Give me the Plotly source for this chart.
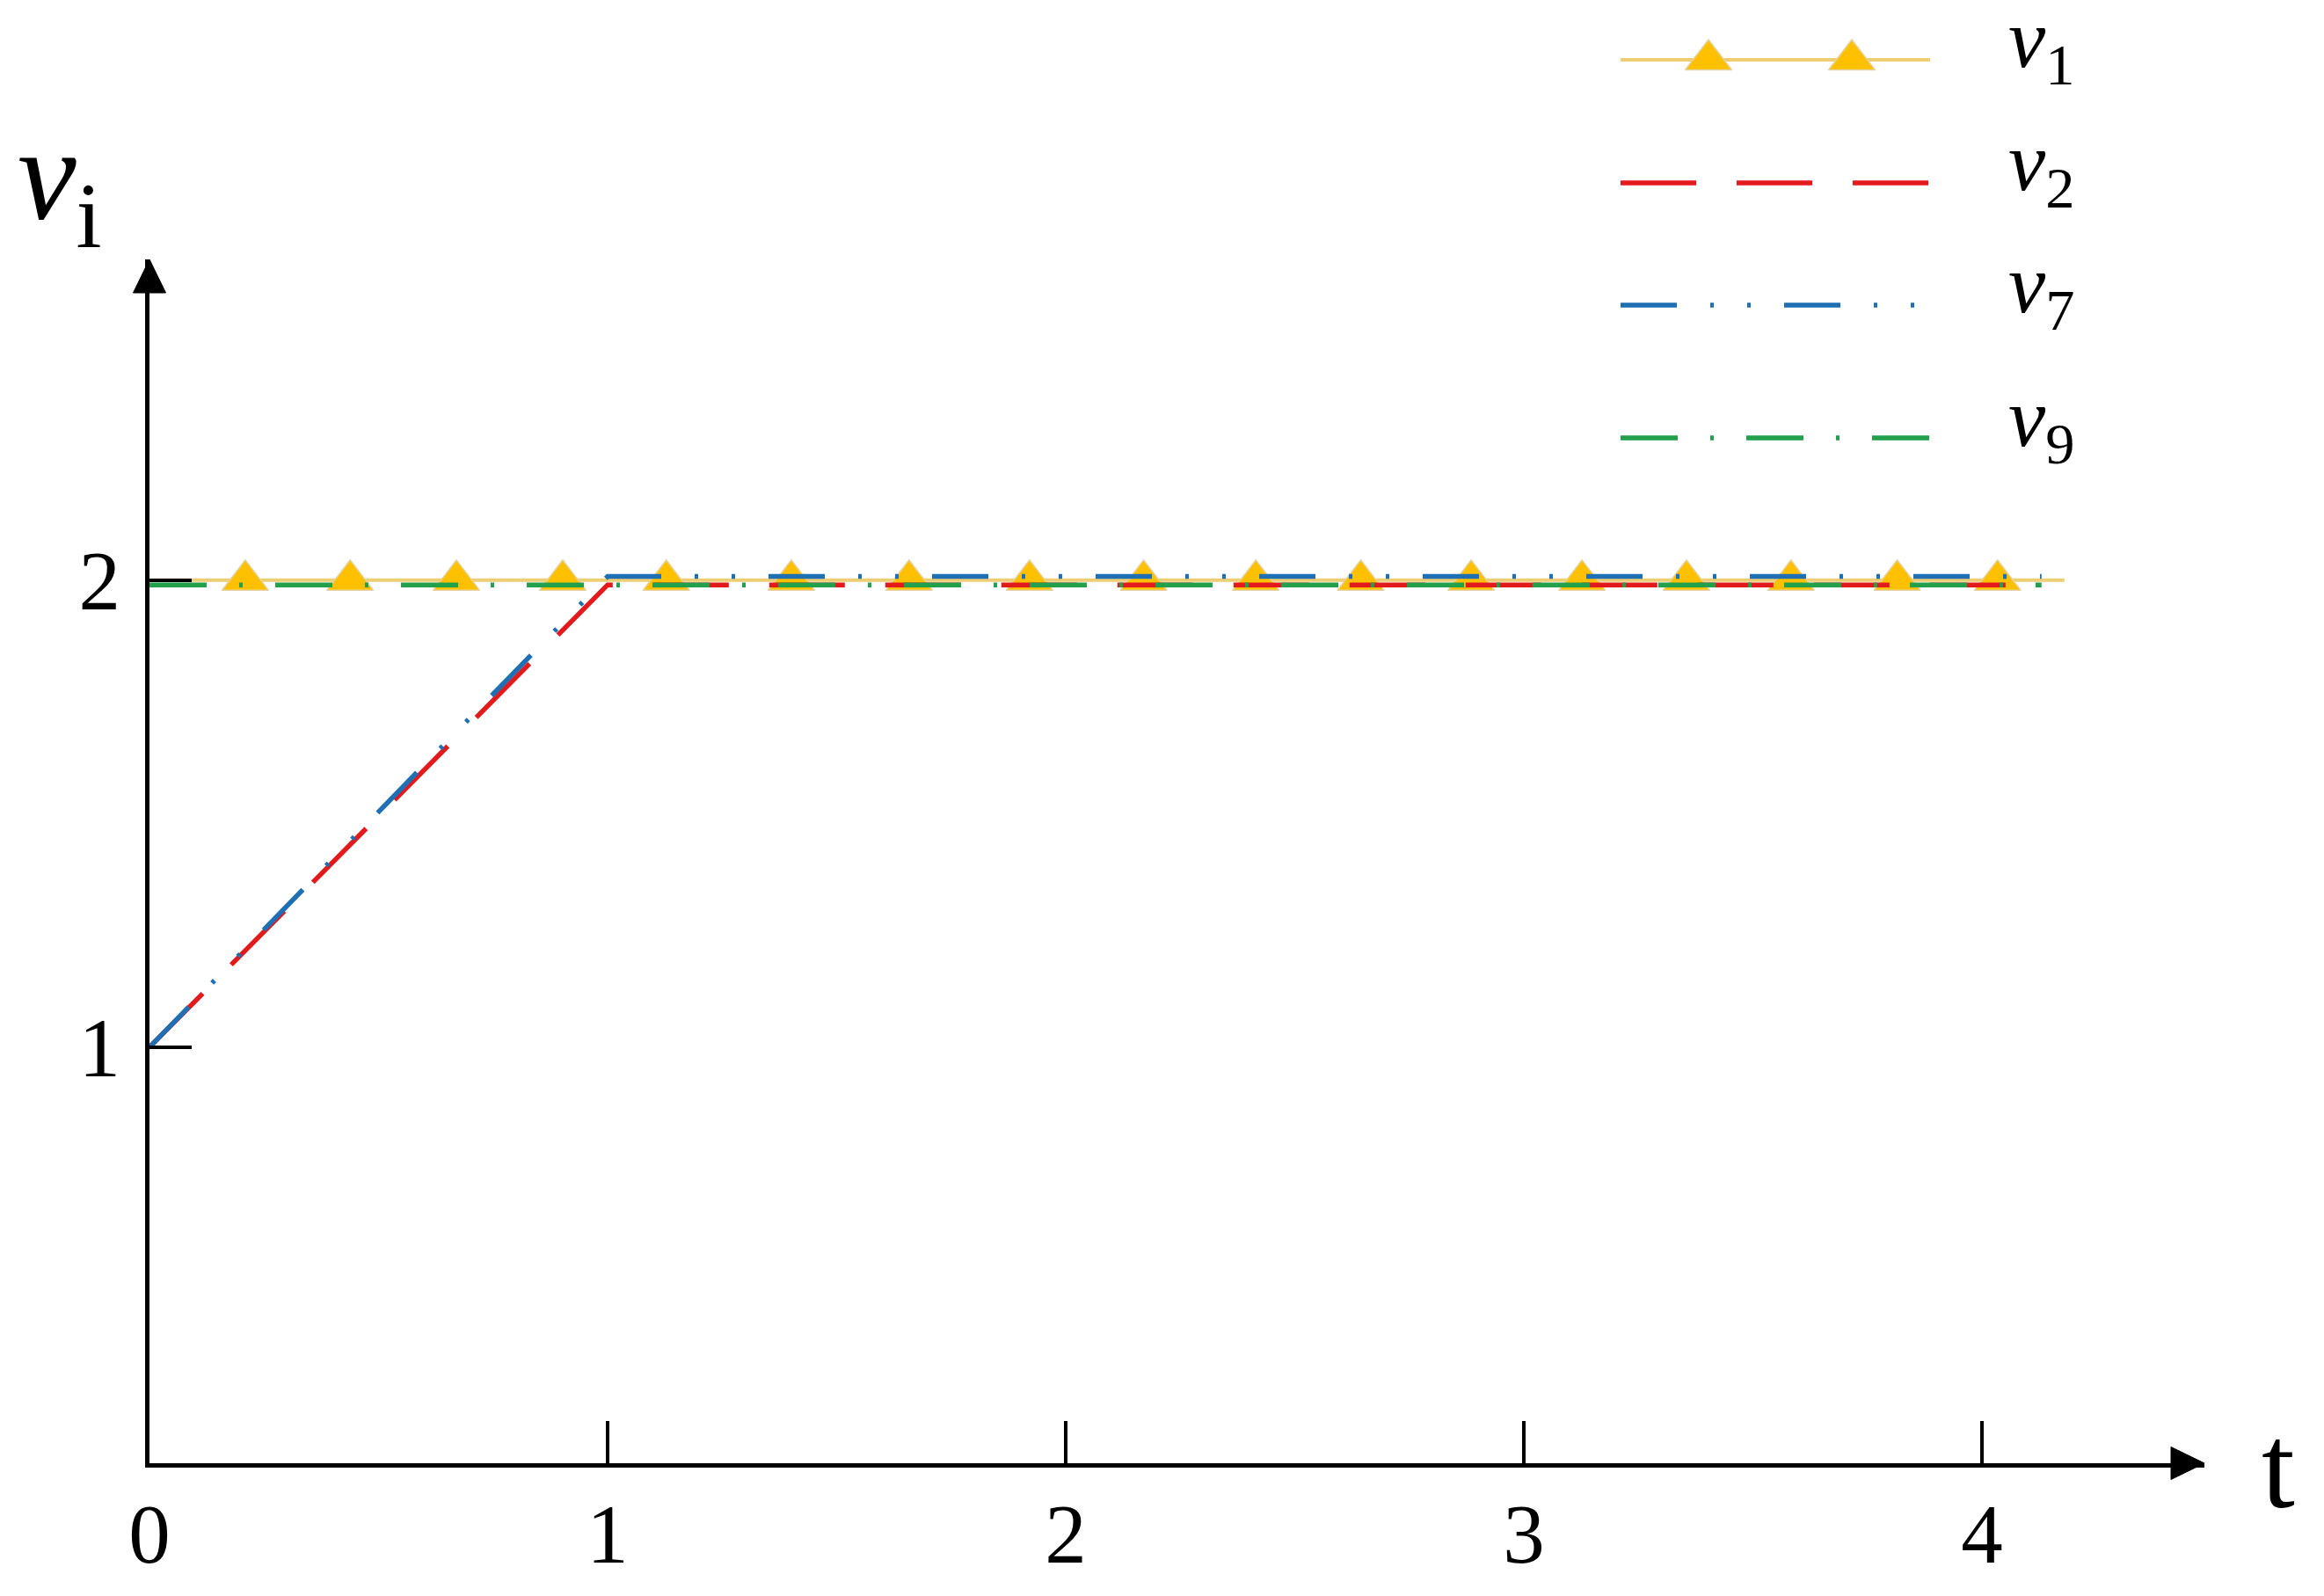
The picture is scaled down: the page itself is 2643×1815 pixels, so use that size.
import plotly.graph_objects as go

W, H = 2643, 1815          # browser window size
OFF = 8                    # default page margin of the html body

# ---------------- data ----------------
t_v1 = [0.0, 4.18]
v1 = [2.0, 2.0]
t_v1_markers = [0.209, 0.438, 0.670, 0.902, 1.128, 1.401, 1.658, 1.921, 2.170,
                2.415, 2.644, 2.885, 3.127, 3.355, 3.583, 3.815, 4.034]
v1_markers = [2.0, 2.0, 2.0, 2.0, 2.0, 2.0, 2.0, 2.0, 2.0,
              2.0, 2.0, 2.0, 2.0, 2.0, 2.0, 2.0, 2.0]
t_v2 = [0.0, 1.0, 4.13]
v2 = [1.0, 1.99, 1.99]
t_v7 = [0.0, 1.0, 4.13]
v7 = [1.0, 2.008, 2.008]
t_v9 = [0.0, 4.13]
v9 = [1.99, 1.99]

x_tick_vals = [0, 1, 2, 3, 4]
x_tick_text = ["0", "1", "2", "3", "4"]
y_tick_vals = [1, 2]
y_tick_text = ["1", "2"]

# ---------------- styles ----------------
SERIF = "Liberation Serif"
C_Y_LINE = "#EDCE74"
C_Y_MARK = "#FFC000"
C_RED = "#E31A1C"
C_BLUE = "#1F6FB4"
C_GREEN = "#22A04B"
DASH_RED = "86px,46px"
DASH_BLUE = "64px,38px,4px,38px,4px,38px"
DASH_GREEN = "65px,37px,4px,37px"
LW = 5.5
MSIZE = 46

# plot geometry in window pixels
X0, X1 = 170, 2507      # y-axis position, x-arrow tip
Y0, Y1 = 1664, 295      # x-axis position, y-arrow tip
PX_PER_T = 521.0
Y_BOTTOM, Y_TOP = 0.1092, 2.687

FW, FH = W - OFF, H - OFF


def px(x):
    return (x - OFF) / FW


def py(y):
    return 1 - (y - OFF) / FH


fig = go.Figure()

# main series
fig.add_trace(go.Scatter(x=t_v1, y=v1, mode="lines", line=dict(color=C_Y_LINE, width=4),
                         showlegend=False, xaxis="x", yaxis="y"))
fig.add_trace(go.Scatter(x=t_v1_markers, y=v1_markers, mode="markers",
                         marker=dict(symbol="triangle-up", size=MSIZE, color=C_Y_MARK,
                                     line=dict(color="#E3D3A6", width=1.5)),
                         showlegend=False, xaxis="x", yaxis="y"))
fig.add_trace(go.Scatter(x=t_v2, y=v2, mode="lines",
                         line=dict(color=C_RED, width=LW, dash=DASH_RED),
                         showlegend=False, xaxis="x", yaxis="y"))
fig.add_trace(go.Scatter(x=t_v7, y=v7, mode="lines",
                         line=dict(color=C_BLUE, width=LW, dash=DASH_BLUE),
                         showlegend=False, xaxis="x", yaxis="y"))
fig.add_trace(go.Scatter(x=t_v9, y=v9, mode="lines",
                         line=dict(color=C_GREEN, width=LW, dash=DASH_GREEN),
                         showlegend=False, xaxis="x", yaxis="y"))

# ---------------- custom legend (pixel overlay axes) ----------------
LEG_X0, LEG_X1 = 1843, 2195
LEG_ROWS = [68, 208, 347, 498]
LEG_TRI = [1943, 2106]
LEG_TEXT_X = 2282
legend_labels = ["<i>v</i><sub>1</sub>", "<i>v</i><sub>2</sub>",
                 "<i>v</i><sub>7</sub>", "<i>v</i><sub>9</sub>"]
legend_styles = [dict(color=C_Y_LINE, width=4),
                 dict(color=C_RED, width=LW, dash=DASH_RED),
                 dict(color=C_BLUE, width=LW, dash=DASH_BLUE),
                 dict(color=C_GREEN, width=LW, dash=DASH_GREEN)]
for row, st in zip(LEG_ROWS, legend_styles):
    fig.add_trace(go.Scatter(x=[LEG_X0, LEG_X1], y=[row, row], mode="lines", line=st,
                             showlegend=False, xaxis="x2", yaxis="y2", hoverinfo="skip"))
fig.add_trace(go.Scatter(x=LEG_TRI, y=[LEG_ROWS[0]] * len(LEG_TRI), mode="markers",
                         marker=dict(symbol="triangle-up", size=MSIZE, color=C_Y_MARK,
                                     line=dict(color="#E3D3A6", width=1.5)),
                         showlegend=False, xaxis="x2", yaxis="y2", hoverinfo="skip"))

annotations = []
for row, lab in zip(LEG_ROWS, legend_labels):
    annotations.append(dict(text=lab, xref="paper", yref="paper", x=px(LEG_TEXT_X), y=py(row - 17),
                            xanchor="left", yanchor="middle", showarrow=False,
                            font=dict(family=SERIF, size=95, color="black")))

# axis titles
annotations.append(dict(text="<i>v</i><sub>i</sub>", xref="paper", yref="paper",
                        x=px(18), y=py(209), xanchor="left", yanchor="middle", showarrow=False,
                        font=dict(family=SERIF, size=150, color="black")))
annotations.append(dict(text="t", xref="paper", yref="paper",
                        x=px(2570), y=py(1668), xanchor="left", yanchor="middle", showarrow=False,
                        font=dict(family=SERIF, size=136, color="black")))

# arrowheads
AH_L, AH_HW = 38, 18.5
shapes = [
    dict(type="path", xref="paper", yref="paper", layer="above",
         path=f"M{px(X1)},{py(Y0)} L{px(X1 - AH_L)},{py(Y0 - AH_HW)} L{px(X1 - AH_L)},{py(Y0 + AH_HW)} Z",
         fillcolor="black", line=dict(color="black", width=1)),
    dict(type="path", xref="paper", yref="paper", layer="above",
         path=f"M{px(X0)},{py(Y1)} L{px(X0 - AH_HW)},{py(Y1 + AH_L)} L{px(X0 + AH_HW)},{py(Y1 + AH_L)} Z",
         fillcolor="black", line=dict(color="black", width=1)),
]

axis_common = dict(showline=True, linewidth=5, linecolor="black", ticks="inside",
                   ticklen=48, tickwidth=3.5, tickcolor="black", showgrid=False,
                   zeroline=False, tickfont=dict(family=SERIF, size=95, color="black"),
                   tickmode="array", layer="above traces", automargin=False)

fig.update_layout(
    width=FW, height=FH, autosize=False,
    margin=dict(l=0, r=0, t=0, b=0, autoexpand=False),
    paper_bgcolor="white", plot_bgcolor="rgba(0,0,0,0)",
    showlegend=False,
    xaxis=dict(domain=[px(X0), px(X1)], range=[0, (X1 - X0) / PX_PER_T], anchor="y",
               tickvals=x_tick_vals, ticktext=x_tick_text, ticklabelstandoff=-6,
               **axis_common),
    yaxis=dict(domain=[py(Y0), py(Y1)], range=[Y_BOTTOM, Y_TOP], anchor="x",
               tickvals=y_tick_vals, ticktext=y_tick_text, ticklabelstandoff=9,
               **axis_common),
    xaxis2=dict(domain=[0, 1], range=[OFF, W], anchor="y2", visible=False, fixedrange=True,
                automargin=False),
    yaxis2=dict(domain=[0, 1], range=[H, OFF], anchor="x2", visible=False, fixedrange=True,
                automargin=False),
    annotations=annotations,
    shapes=shapes,
)

fig.write_html("out.html")
